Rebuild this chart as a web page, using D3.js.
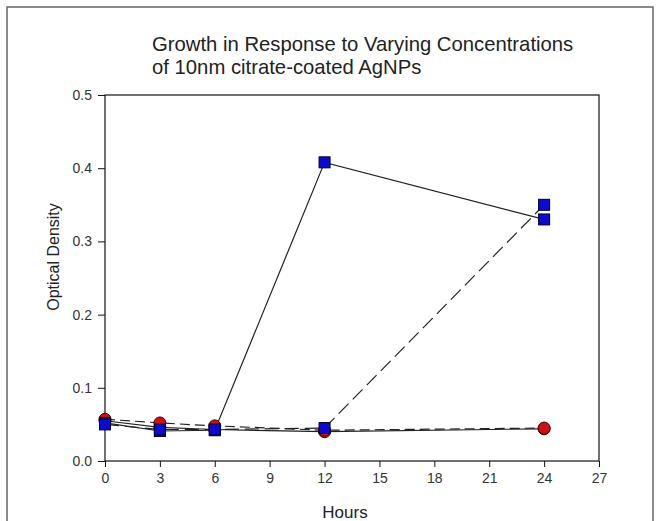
<!DOCTYPE html>
<html>
<head>
<meta charset="utf-8">
<script src="https://cdn.jsdelivr.net/npm/d3@7"></script>
<style>
  body { margin: 0; background: #fff; }
  svg { font-family: "Liberation Sans", Arial, sans-serif; }
</style>
</head>
<body>
<svg id="chart" width="659" height="521"></svg>
<script>
// data
let hours = [0, 3, 6, 12, 24];
let redSolid = [0.055, 0.046, 0.043, 0.040, 0.044];
let redDashed = [0.057, 0.052, 0.048, 0.042, 0.045];
let blueSolid = [0.052, 0.041, 0.042, 0.408, 0.330];
let blueDashed = [0.050, 0.043, 0.043, 0.045, 0.350];
let xTicks = [0, 3, 6, 9, 12, 15, 18, 21, 24, 27];
let yTicks = [0.0, 0.1, 0.2, 0.3, 0.4, 0.5];

let series = [
  {values: redSolid, marker: 'circle', color: '#d01010', dash: null},
  {values: redDashed, marker: 'circle', color: '#d01010', dash: '10,5'},
  {values: blueSolid, marker: 'square', color: '#0a0ad0', dash: null},
  {values: blueDashed, marker: 'square', color: '#0a0ad0', dash: '14,6'}
];

let margin = {top: 95, left: 105};
let width = 494, height = 366;

let svg = d3.select('#chart');

// outer frame (open at bottom)
svg.append('path')
  .attr('d', 'M7,521 L7,7 L653,7 L653,521')
  .attr('fill', 'none')
  .attr('stroke', '#666')
  .attr('stroke-width', 1.5);

svg.append('text')
  .attr('x', 152).attr('y', 51)
  .attr('font-size', 20.3).attr('fill', '#222')
  .text('Growth in Response to Varying Concentrations');
svg.append('text')
  .attr('x', 152).attr('y', 74)
  .attr('font-size', 20.3).attr('fill', '#222')
  .text('of 10nm citrate-coated AgNPs');

let g = svg.append('g')
  .attr('transform', 'translate(' + margin.left + ',' + margin.top + ')');

let x = d3.scaleLinear().domain([0, 27]).range([0, width]);
let y = d3.scaleLinear().domain([0, 0.5]).range([height, 0]);

// box
g.append('rect')
  .attr('width', width).attr('height', height)
  .attr('fill', 'none').attr('stroke', '#111').attr('stroke-width', 1.2);

let xAxis = d3.axisBottom(x).tickValues(xTicks).tickSize(6).tickPadding(6).tickFormat(d3.format('d'));
let yAxis = d3.axisLeft(y).tickValues(yTicks).tickSize(7).tickPadding(6).tickFormat(d3.format('.1f'));

let gx = g.append('g').attr('transform', 'translate(0,' + height + ')').call(xAxis);
let gy = g.append('g').call(yAxis);
[gx, gy].forEach(function (a) {
  a.select('.domain').remove();
  a.selectAll('line').attr('stroke', '#111');
  a.selectAll('text').attr('font-size', 14).attr('fill', '#333')
    .attr('font-family', '"Liberation Sans", Arial, sans-serif');
});

svg.append('text')
  .attr('x', 345).attr('y', 518)
  .attr('text-anchor', 'middle')
  .attr('font-size', 17).attr('fill', '#222')
  .text('Hours');
svg.append('text')
  .attr('transform', 'translate(59,257) rotate(-90)')
  .attr('text-anchor', 'middle')
  .attr('font-size', 16).attr('fill', '#222')
  .text('Optical Density');

let line = d3.line()
  .x(function (d, i) { return x(hours[i]); })
  .y(function (d) { return y(d); });

series.forEach(function (s) {
  g.append('path')
    .datum(s.values)
    .attr('d', line)
    .attr('fill', 'none')
    .attr('stroke', '#222')
    .attr('stroke-width', 1.2)
    .attr('stroke-dasharray', s.dash);
});

series.forEach(function (s) {
  s.values.forEach(function (v, i) {
    if (s.marker == 'circle') {
      g.append('circle')
        .attr('cx', x(hours[i])).attr('cy', y(v)).attr('r', 6)
        .attr('fill', s.color).attr('stroke', '#400').attr('stroke-width', 1);
    } else {
      g.append('rect')
        .attr('x', x(hours[i]) - 5.5).attr('y', y(v) - 5.5)
        .attr('width', 11).attr('height', 11)
        .attr('fill', s.color).attr('stroke', '#002').attr('stroke-width', 1);
    }
  });
});
</script>
</body>
</html>
